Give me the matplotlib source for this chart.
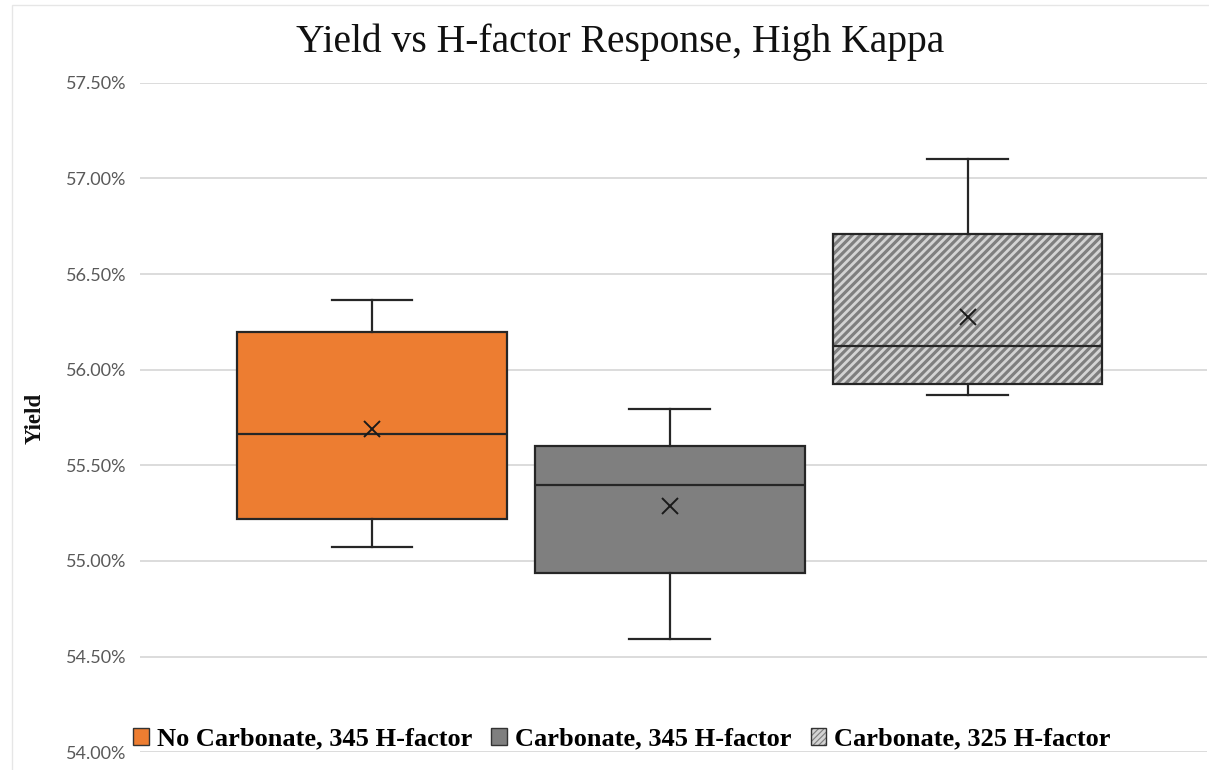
import matplotlib
matplotlib.use("Agg")
import matplotlib.pyplot as plt
from matplotlib.patches import Patch, Rectangle
from matplotlib.legend_handler import HandlerTuple
from matplotlib.ticker import FuncFormatter, MultipleLocator

# ---- data (percent) ----
categories = ["No Carbonate, 345 H-factor", "Carbonate, 345 H-factor", "Carbonate, 325 H-factor"]
whisker_low = [55.075, 54.594, 55.869]
q1 = [55.221, 54.938, 55.925]
median = [55.664, 55.397, 56.122]
q3 = [56.199, 55.601, 56.709]
whisker_high = [56.366, 55.794, 57.101]
mean = [55.690, 55.289, 56.275]

face_colors = ["#ED7D31", "#7F7F7F", "#7F7F7F"]
hatches = [None, None, "////"]

plt.rcParams["hatch.linewidth"] = 2.0

fig = plt.figure(figsize=(12.09, 7.70), dpi=100)
ax = fig.add_axes([140 / 1209, 1 - 752.3 / 770, 1067 / 1209, (752.3 - 82.7) / 770])

stats = []
for i in range(len(categories)):
    stats.append(dict(label=categories[i], whislo=whisker_low[i], q1=q1[i], med=median[i],
                      q3=q3[i], whishi=whisker_high[i], mean=mean[i], fliers=[]))

positions = list(range(1, len(categories) + 1))
line_col = "#262626"
lw = 1.6

# fill / hatch layer drawn first
hb = ax.bxp(stats, positions=positions, widths=0.906, patch_artist=True, showmeans=False,
            showcaps=False, boxprops=dict(linewidth=0), whiskerprops=dict(linewidth=0),
            medianprops=dict(linewidth=0), manage_ticks=False, zorder=2)
for patch, fc, h in zip(hb["boxes"], face_colors, hatches):
    patch.set_facecolor(fc)
    if h:
        patch.set_hatch(h)
        patch.set_edgecolor("#D4D4D4")
    else:
        patch.set_edgecolor(fc)
    patch.set_linewidth(0)

# outline layer
ob = ax.bxp(stats, positions=positions, widths=0.906, patch_artist=True, showmeans=True,
            capwidths=0.27,
            boxprops=dict(facecolor="none", edgecolor=line_col, linewidth=lw),
            whiskerprops=dict(color=line_col, linewidth=lw),
            capprops=dict(color=line_col, linewidth=lw),
            medianprops=dict(color=line_col, linewidth=lw),
            meanprops=dict(marker="x", markeredgecolor="#1a1a1a", markersize=11, markeredgewidth=1.4),
            manage_ticks=False, zorder=3)

ax.set_xlim(0.222, 3.804)
ax.set_ylim(54.0, 57.5)
ax.yaxis.set_major_locator(MultipleLocator(0.5))
ax.yaxis.set_major_formatter(FuncFormatter(lambda v, p: f"{v:.2f}%"))
ax.grid(axis="y", color="#D9D9D9", linewidth=1.3, zorder=0)
ax.set_axisbelow(True)
for s in ax.spines.values():
    s.set_visible(False)
ax.tick_params(axis="x", bottom=False, labelbottom=False)
ax.tick_params(axis="y", left=False, length=0, pad=9.5, labelsize=13, labelcolor="#595959")
for t in ax.get_yticklabels():
    t.set_fontfamily("Lato")

fig.text(620 / 1209, 1 - 42 / 770, "Yield vs H-factor Response, High Kappa", ha="center", va="center",
         fontsize=28.5, family="Liberation Serif", color="#111111")
fig.text(35 / 1209, 1 - 418 / 770, "Yield", rotation=90, ha="center", va="center",
         fontsize=16.5, fontweight="bold", family="Liberation Serif", color="#111111")

handles = []
for fc, h in zip(face_colors, hatches):
    outline = Patch(facecolor="none", edgecolor="#333333", linewidth=1.0)
    if h:
        fill = Patch(facecolor=fc, edgecolor="#D4D4D4", hatch="//////", linewidth=0)
    else:
        fill = Patch(facecolor=fc, edgecolor="none", linewidth=0)
    handles.append((fill, outline))
leg = fig.legend(handles, categories, loc="center", bbox_to_anchor=(622 / 1209, 1 - 739 / 770),
                 ncol=3, frameon=False, handlelength=0.6, handleheight=0.6, handletextpad=0.3,
                 columnspacing=0.72, prop=dict(family="Liberation Serif", weight="bold", size=19),
                 handler_map={tuple: HandlerTuple(ndivide=1, pad=0)})

# faint chart-area border
fig.patches.append(Rectangle((12 / 1209, -0.1), 1.2, 1.1 - 5 / 770, transform=fig.transFigure,
                             facecolor="none", edgecolor="#E6E6E6", linewidth=1.0))

fig.savefig("out.png", dpi=100)
